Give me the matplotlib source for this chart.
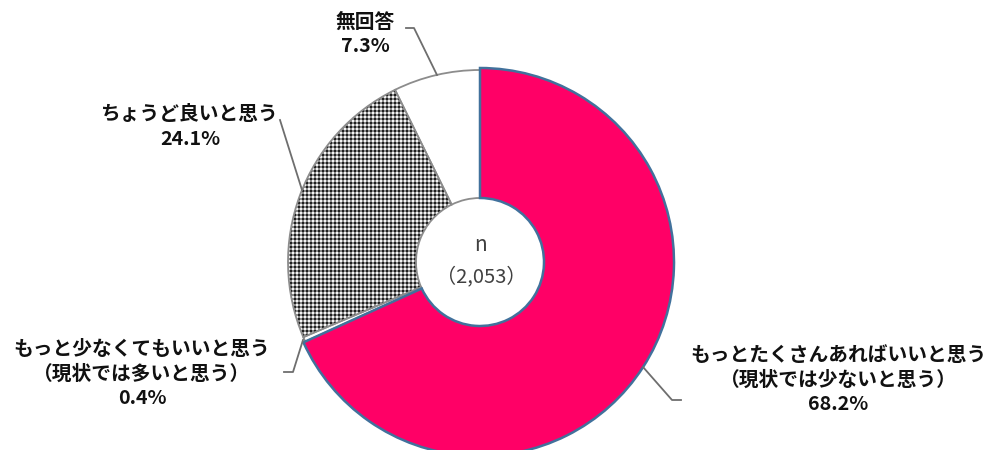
import numpy as np
import matplotlib
matplotlib.use("Agg")
import matplotlib.pyplot as plt

plt.rcParams['font.family'] = ['Noto Sans CJK JP', 'DejaVu Sans']

# data
labels = ['もっとたくさんあればいいと思う\n（現状では少ないと思う）',
          'もっと少なくてもいいと思う\n（現状では多いと思う）',
          'ちょうど良いと思う',
          '無回答']
values = [68.2, 0.4, 24.1, 7.3]
n_total = '2,053'

W, H = 987, 450
fig = plt.figure(figsize=(W / 100, H / 100), dpi=100)
ax = fig.add_axes([0, 0, 1, 1])


def P(x, y):
    # image pixel coords (y down) -> data coords
    return x, H - y


cx, cy = P(480, 262)
R = 192
r_in = 64

wedges, _ = ax.pie(values, center=(cx, cy), radius=R, startangle=90,
                   counterclock=False,
                   colors=['#ff0066', 'white', 'white', 'white'],
                   wedgeprops=dict(width=R - r_in, linewidth=1.3,
                                   edgecolor='#8c8c8c'))
wedges[0].set_edgecolor('#41719c')
wedges[0].set_linewidth(1.8)
wedges[0].set_radius(R + 2)
wedges[0].set_width(R + 2 - r_in)
wedges[0].set_zorder(3)

# plaid-like dotted fill for "ちょうど良いと思う"
yy, xx = np.indices((H, W))
a = (xx % 4) >= 2
b = (yy % 4) >= 2
tex = np.where(a & b, 0.0, np.where(~a & ~b, 1.0, 0.5))
im = ax.imshow(tex, cmap=matplotlib.colors.ListedColormap(['#1e1e1e', '#8a8a8a', '#f4f4f4']),
               extent=(0, W, 0, H), origin='lower', interpolation='nearest', zorder=2)
im.set_clip_path(wedges[2])
wedges[2].set_zorder(2.5)
wedges[2].set_facecolor('none')

# center text
ax.text(*P(481, 245), 'n', ha='center', va='center', fontsize=15, color='#404040')
ax.text(*P(481, 277), '（' + n_total + '）', ha='center', va='center',
        fontsize=14.5, color='#404040')

# labels
label_pos = [(838, 380), (142, 374), (190, 127), (365, 34)]
for lab, v, (x, y) in zip(labels, values, label_pos):
    ax.text(*P(x, y), f'{lab}\n{v:.1f}%', ha='center', va='center',
            fontsize=14.2, fontweight='bold', color='#111111', linespacing=1.35)

# leader lines
leaders = [
    [(643, 367), (672, 400), (681, 400)],
    [(303, 340), (293, 372), (284, 372)],
    [(280, 120), (302, 190)],
    [(406, 28), (414, 28), (437, 75)],
]
for pts in leaders:
    xs, ys = zip(*[P(x, y) for x, y in pts])
    ax.plot(xs, ys, color='#6e6e6e', lw=1.3, zorder=4)

ax.set_xlim(0, W)
ax.set_ylim(0, H)
ax.set_aspect('equal')
ax.axis('off')

fig.savefig('out.png', dpi=100)
